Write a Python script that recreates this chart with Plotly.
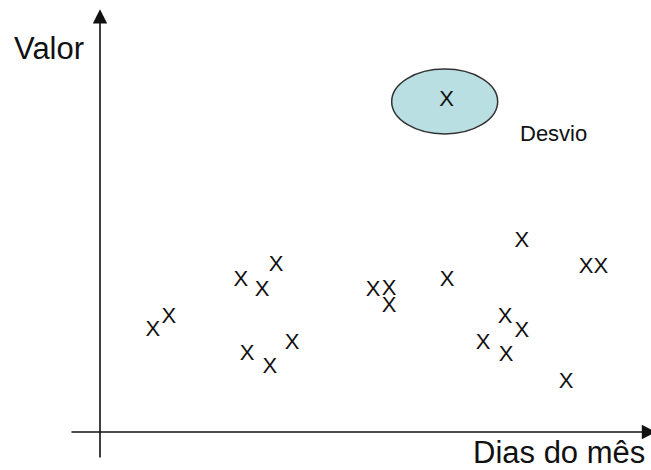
import plotly.graph_objects as go

# dias do mês (eixo x) e valores (eixo y)
dias = [2.93, 3.83, 7.83, 9.0, 9.78, 8.17, 9.44, 10.67, 15.17, 16.06,
        16.06, 19.28, 23.44, 27.0, 27.83, 22.5, 23.44, 21.28, 22.56, 25.89]
valores = [25.3, 28.75, 38.0, 35.5, 41.75, 19.5, 16.25, 22.25, 35.5, 35.75,
           31.5, 38.0, 47.75, 41.25, 41.25, 28.75, 25.25, 22.25, 19.25, 12.5]

# ponto fora do padrão
desvio_dia = 19.26
desvio_valor = 83.0

FONT = "Arial, Liberation Sans, sans-serif"
INK = "#111111"

fig = go.Figure()

# pontos normais desenhados como "X"
fig.add_trace(go.Scatter(
    x=dias, y=valores, mode="text", text=["X"] * len(dias),
    textposition="middle center",
    textfont=dict(family=FONT, size=22, color=INK),
    hoverinfo="skip", showlegend=False,
))

# elipse em volta do desvio
fig.add_shape(
    type="circle", xref="x", yref="y",
    xsizemode="pixel", ysizemode="pixel",
    xanchor=desvio_dia, yanchor=desvio_valor,
    x0=-55, x1=51, y0=-34, y1=31,
    fillcolor="#b9dfe3", line=dict(color="#333333", width=1.5),
    layer="below",
)
fig.add_trace(go.Scatter(
    x=[desvio_dia], y=[desvio_valor], mode="text", text=["X"],
    textposition="middle center",
    textfont=dict(family=FONT, size=22, color=INK),
    hoverinfo="skip", showlegend=False,
))

# eixos com setas
fig.add_annotation(
    x=30.9, y=0, ax=-1.67, ay=0, xref="x", yref="y", axref="x", ayref="y",
    text="", showarrow=True, arrowhead=2, arrowsize=1.8, arrowwidth=1.6,
    arrowcolor=INK,
)
fig.add_annotation(
    x=0, y=105.7, ax=0, ay=-6.75, xref="x", yref="y", axref="x", ayref="y",
    text="", showarrow=True, arrowhead=2, arrowsize=1.8, arrowwidth=1.6,
    arrowcolor=INK,
)

# rótulos
fig.add_annotation(
    x=12 / 651, y=1 - 48 / 470, xref="paper", yref="paper",
    text="Valor", showarrow=False, xanchor="left", yanchor="middle",
    font=dict(family=FONT, size=31, color=INK),
)
fig.add_annotation(
    x=471 / 651, y=1 - 452 / 470, xref="paper", yref="paper",
    text="Dias do mês", showarrow=False, xanchor="left", yanchor="middle",
    font=dict(family=FONT, size=31, color=INK),
)
fig.add_annotation(
    x=518 / 651, y=1 - 133 / 470, xref="paper", yref="paper",
    text="Desvio", showarrow=False, xanchor="left", yanchor="middle",
    font=dict(family=FONT, size=22, color=INK),
)

fig.update_layout(
    width=651, height=470,
    margin=dict(l=0, r=0, t=0, b=0, pad=0),
    paper_bgcolor="white", plot_bgcolor="white",
    xaxis=dict(range=[-100 / 18, 551 / 18], visible=False, fixedrange=True),
    yaxis=dict(range=[-9.5, 108], visible=False, fixedrange=True),
)

# tira a margem padrão do body para a figura começar no canto
fig.write_html(
    "out.html",
    config={"displayModeBar": False},
    post_script="document.body.style.margin='0';document.body.style.overflow='hidden';",
)
